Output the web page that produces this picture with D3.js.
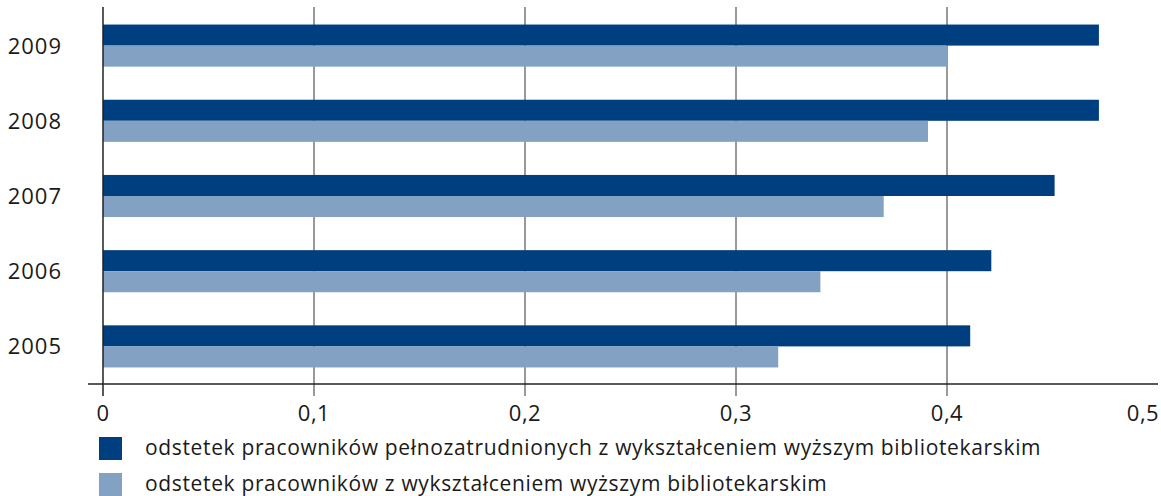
<!DOCTYPE html>
<html>
<head>
<meta charset="utf-8">
<script src="https://cdn.jsdelivr.net/npm/d3@7"></script>
<style>
  body { margin: 0; background: #fff; }
  text { font-family: "Open Sans", "Noto Sans", sans-serif; fill: #1a1a1a; }
</style>
</head>
<body>
<div id="chart"></div>
<script>
// chart data
const years = ['2009', '2008', '2007', '2006', '2005'];
const fullTimeShare = [0.472, 0.472, 0.451, 0.421, 0.411];
const allStaffShare = [0.40, 0.391, 0.37, 0.34, 0.32];
const xTicks = [0, 0.1, 0.2, 0.3, 0.4, 0.5];
const seriesNames = [
    'odstetek pracowników pełnozatrudnionych z wykształceniem wyższym bibliotekarskim',
    'odstetek pracowników z wykształceniem wyższym bibliotekarskim'
];
const seriesColors = ['#003f7f', '#83a1c3'];

const width = 1161, height = 496;

const svg = d3.select('#chart')
    .append('svg')
    .attr('width', width)
    .attr('height', height);

const x = d3.scaleLinear().domain([0, 0.5]).range([103, 1158]);
const y = d3.scaleBand().domain(years).range([8, 384])
    .paddingInner(0.44).paddingOuter(0.22);

// vertical grid lines, continuing below the axis as ticks
svg.append('g')
    .selectAll('line')
    .data(xTicks.slice(1, 5))
    .join('line')
    .attr('x1', d => x(d)).attr('x2', d => x(d))
    .attr('y1', 7).attr('y2', 396)
    .attr('stroke', '#555')
    .attr('stroke-width', 1.2);

// bars
const groups = svg.append('g')
    .selectAll('g')
    .data(years)
    .join('g');

const half = y.bandwidth() / 2;

groups.append('rect')
    .attr('x', x(0))
    .attr('y', d => y(d))
    .attr('width', (d, i) => x(fullTimeShare[i]) - x(0))
    .attr('height', half)
    .attr('fill', seriesColors[0]);

groups.append('rect')
    .attr('x', x(0))
    .attr('y', d => y(d) + half)
    .attr('width', (d, i) => x(allStaffShare[i]) - x(0))
    .attr('height', half)
    .attr('fill', seriesColors[1]);

// axes lines
svg.append('line')
    .attr('x1', 88).attr('x2', 1158)
    .attr('y1', 384).attr('y2', 384)
    .attr('stroke', '#222').attr('stroke-width', 1.5);

svg.append('line')
    .attr('x1', x(0)).attr('x2', x(0))
    .attr('y1', 7).attr('y2', 396)
    .attr('stroke', '#222').attr('stroke-width', 1.5);

// year labels
svg.append('g')
    .selectAll('text')
    .data(years)
    .join('text')
    .attr('x', 62)
    .attr('y', d => y(d) + y.bandwidth() / 2)
    .attr('dy', '0.36em')
    .attr('text-anchor', 'end')
    .attr('font-size', '22px')
    .attr('letter-spacing', '1px')
    .text(d => d);

// tick labels
svg.append('g')
    .selectAll('text')
    .data(xTicks)
    .join('text')
    .attr('x', d => d === 0.5 ? x(d) - 15 : x(d))
    .attr('y', 421)
    .attr('text-anchor', 'middle')
    .attr('font-size', '22px')
    .attr('letter-spacing', '0.5px')
    .text(d => d === 0 ? '0' : d3.format('.1f')(d).replace('.', ','));

// legend
const legend = svg.append('g')
    .selectAll('g')
    .data(seriesNames)
    .join('g')
    .attr('transform', (d, i) => `translate(99, ${437 + i * 36})`);

legend.append('rect')
    .attr('width', 23).attr('height', 23)
    .attr('fill', (d, i) => seriesColors[i]);

legend.append('text')
    .attr('x', 46)
    .attr('y', 18)
    .attr('font-size', '21px')
    .attr('letter-spacing', '0.65px')
    .text(d => d);
</script>
</body>
</html>
